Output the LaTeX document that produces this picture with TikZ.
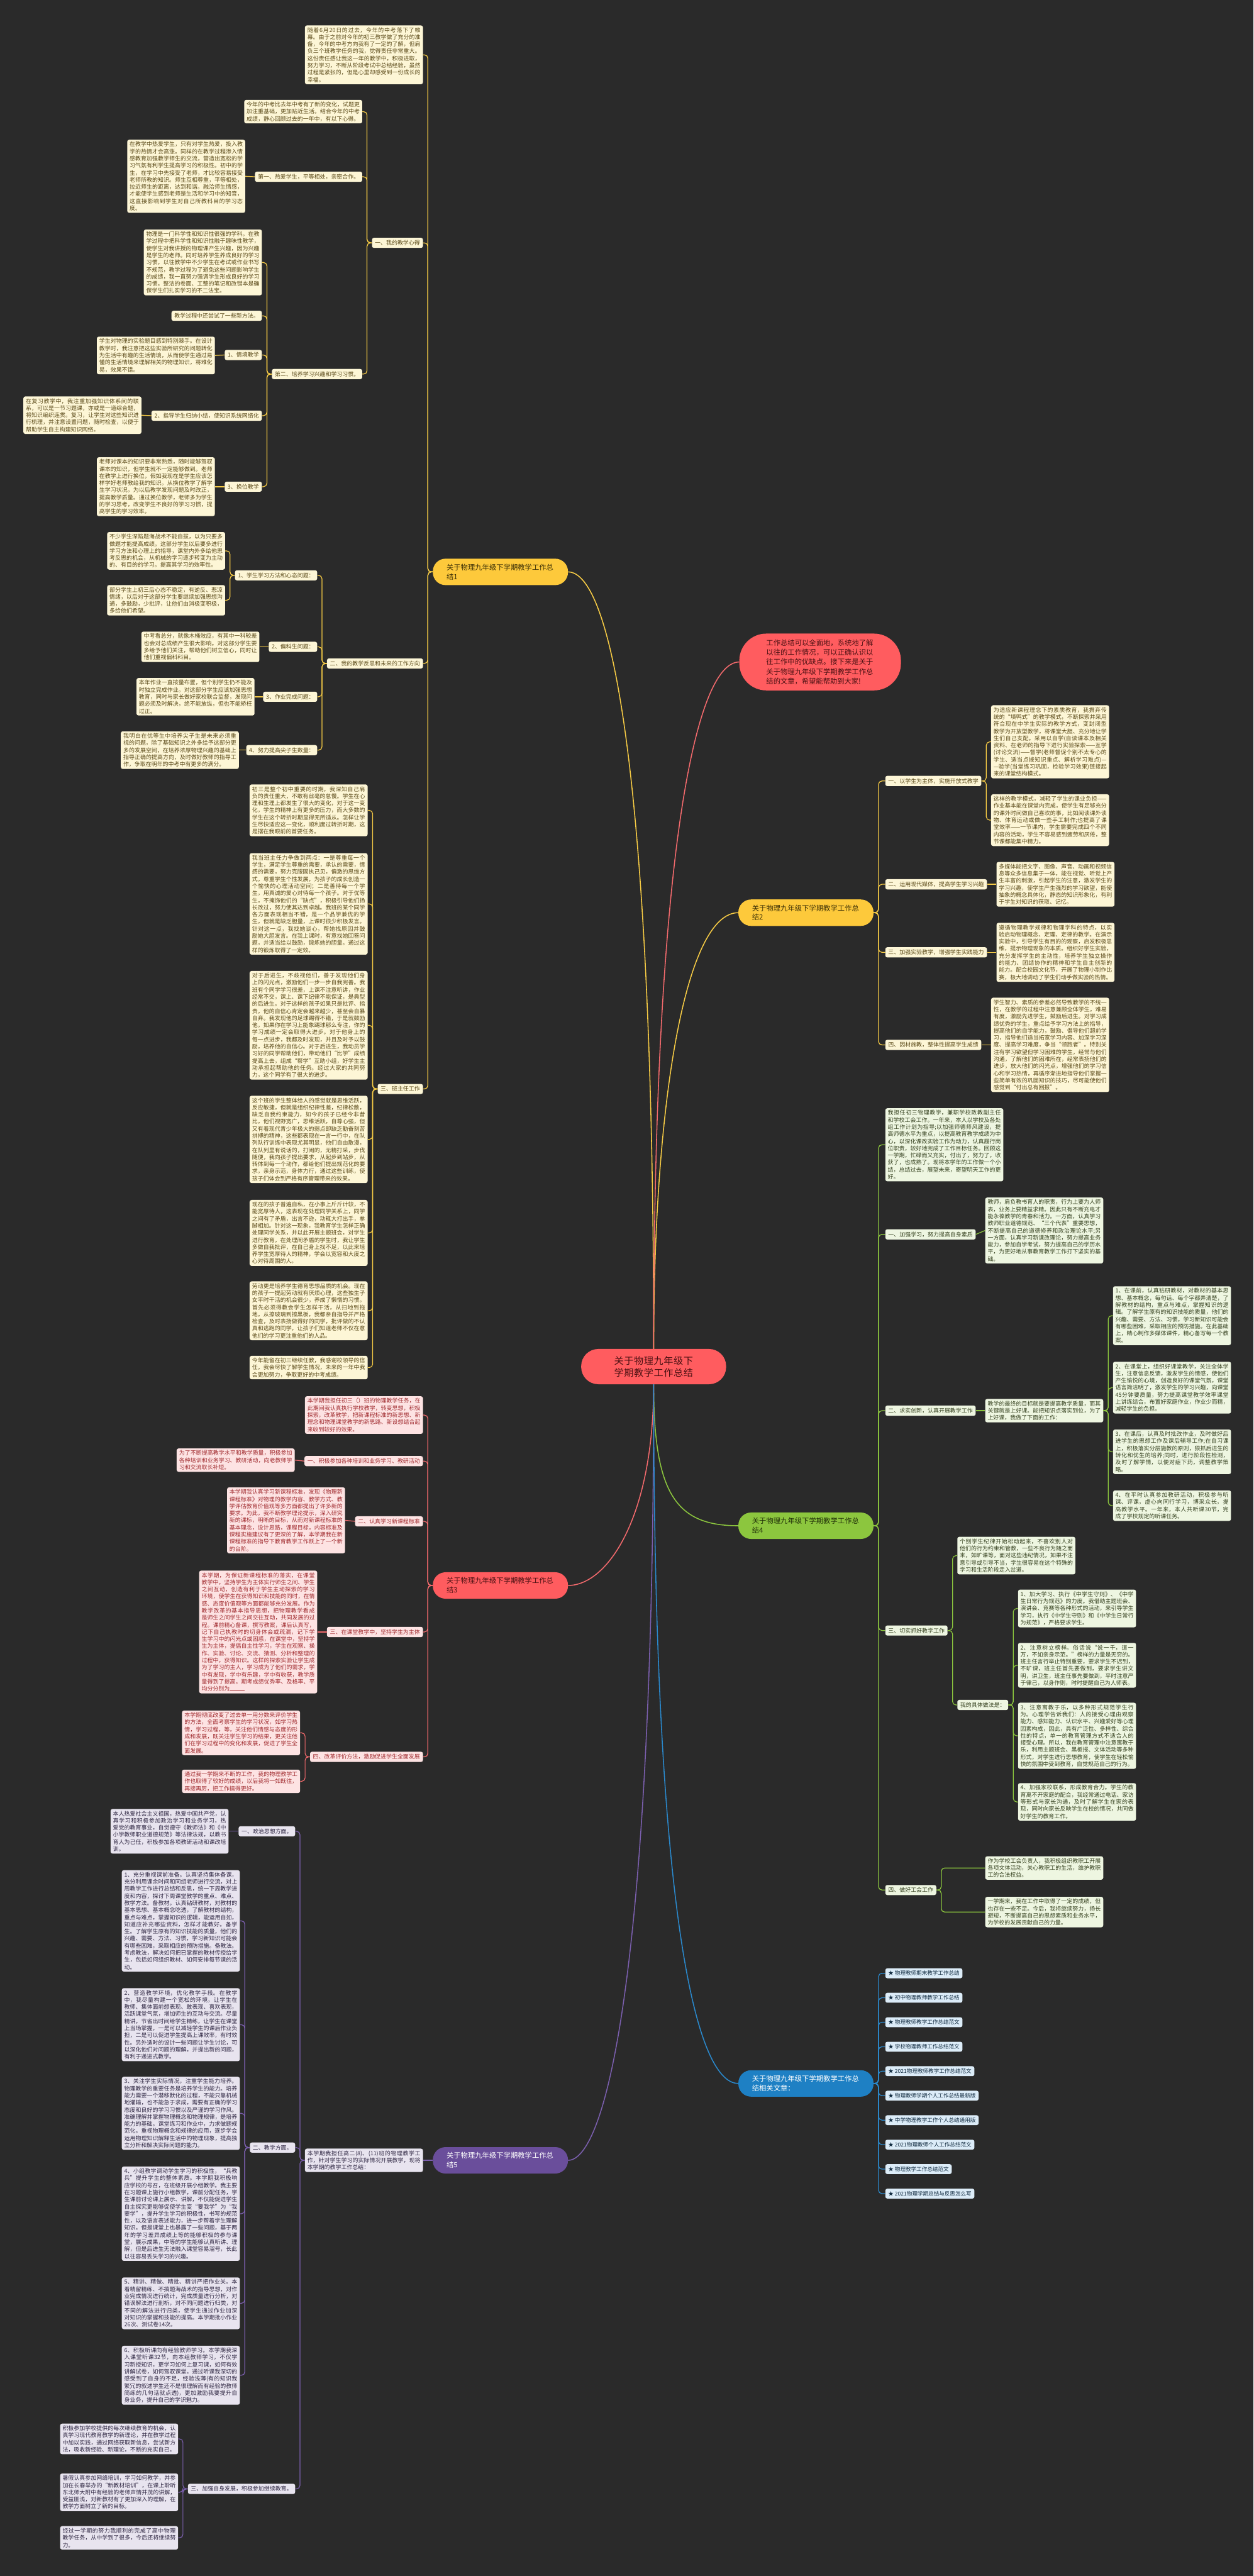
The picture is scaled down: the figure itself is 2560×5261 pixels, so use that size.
\documentclass[tikz,border=0pt]{standalone}
\usepackage{fontspec}
\setmainfont{Noto Sans CJK SC}
\XeTeXlinebreaklocale "zh"
\XeTeXlinebreakskip=0pt plus 1pt

\definecolor{bgc}{HTML}{2A2A2A}
\definecolor{rootc}{HTML}{FF5C5F}
\definecolor{roott}{HTML}{4A1012}
\definecolor{yc}{HTML}{FDC93B}
\definecolor{yt}{HTML}{3B2F06}
\definecolor{yf}{HTML}{FDF6D6}
\definecolor{ylt}{HTML}{5A4918}
\definecolor{yl}{HTML}{F6CB45}
\definecolor{rf}{HTML}{FDE3E3}
\definecolor{rlt}{HTML}{A02A2E}
\definecolor{rl}{HTML}{F36A6D}
\definecolor{gc}{HTML}{8CC63E}
\definecolor{gt}{HTML}{1F2E08}
\definecolor{gf}{HTML}{EEF6E1}
\definecolor{glt}{HTML}{34401E}
\definecolor{pc}{HTML}{6A4E9B}
\definecolor{pf}{HTML}{E8E4EF}
\definecolor{plt}{HTML}{2E2642}
\definecolor{pl}{HTML}{7B5FAE}
\definecolor{bc}{HTML}{1E80C4}
\definecolor{bf}{HTML}{DCECF8}
\definecolor{blt}{HTML}{112B40}
\definecolor{bl}{HTML}{2A89CC}

\tikzset{
  root/.style={fill=rootc, text=roott, rounded corners=35pt, minimum height=72pt, text width=216pt, inner xsep=40pt, inner ysep=12pt, align=center, font=\fontsize{19.5}{24}\selectfont},
  lead/.style={fill=rootc, text=roott, rounded corners=55pt, minimum height=116pt, text width=220pt, inner xsep=55pt, inner ysep=8pt, align=left, font=\fontsize{14.5}{19.5}\selectfont},
  topic/.style={rounded corners=26pt, minimum height=54pt, text width=220pt, inner xsep=28pt, inner ysep=8pt, align=left, font=\fontsize{14.5}{19}\selectfont},
  leaf/.style={rounded corners=4pt, text width=231pt, inner xsep=5pt, inner ysep=4pt, align=justify, font=\fontsize{11.5}{14.5}\selectfont},
  tag/.style={rounded corners=4pt, inner xsep=6pt, inner ysep=5pt, font=\fontsize{11.5}{14}\selectfont},
  yb/.style={fill=yf, text=ylt},
  rb/.style={fill=rf, text=rlt},
  gb/.style={fill=gf, text=glt},
  pb/.style={fill=pf, text=plt},
  bb/.style={fill=bf, text=blt},
  link/.style={line width=1.6pt, rounded corners=7pt},
}

\begin{document}
\begin{tikzpicture}[x=1pt, y=-1pt]
  % 背景
  \fill[bgc] (0,0) rectangle (2560,5261);
  \useasboundingbox (0,0) rectangle (2560,5261);

  % 中心
  \node[root] (root) at (1335,2791) {关于物理九年级下学期教学工作总结};
  \node[lead] (lead) at (1675,1352) {工作总结可以全面地，系统地了解以往的工作情况，可以正确认识以往工作中的优缺点。接下来是关于关于物理九年级下学期教学工作总结的文章，希望能帮助到大家!};

  % 总结1（左上）
  \node[topic, fill=yc, text=yt] (b1) at (1022,1168) {关于物理九年级下学期教学工作总结1};
  \node[leaf, yb, anchor=east] (b1p) at (864,112) {随着6月20日的过去，今年的中考落下了帷幕。由于之前对今年的初三教学做了充分的准备，今年的中考方向我有了一定的了解，但肩负三个班教学任务的我，觉得责任非常重大。这份责任感让我这一年的教学中，积极进取，努力学习，不断从阶段考试中总结经验，虽然过程是紧张的，但是心里却感受到一份成长的幸福。};
  \node[tag, yb, anchor=east] (b1a) at (864,496) {一、我的教学心得};
  \node[tag, yb, anchor=east] (b1b) at (864,1355) {二、我的教学反思和未来的工作方向};
  \node[tag, yb, anchor=east] (b1c) at (864,2224) {三、班主任工作};

  \node[leaf, yb, anchor=east] (b1a1) at (740,228) {今年的中考比去年中考有了新的变化，试题更加注重基础，更加贴近生活。结合今年的中考成绩，静心回顾过去的一年中，有以下心得。};
  \node[tag, yb, anchor=east] (b1a2) at (740,361) {第一、热爱学生，平等相处，亲密合作。};
  \node[leaf, yb, anchor=east] (b1a2a) at (501,360) {在教学中热爱学生，只有对学生热爱，投入教学的热情才会高涨。同样的在教学过程渗入情感教育加强教学师生的交流，营造出宽松的学习气氛有利学生提高学习的积极性。初中的学生，在学习中先接受了老师，才比较容易接受老师所教的知识。师生互相尊重，平等相处，拉近师生的距离，达到和谐。融洽师生情感，才能使学生感到老师是生活和学习中的知音，这直接影响到学生对自己所教科目的学习态度。};
  \node[tag, yb, anchor=east] (b1a3) at (740,764) {第二、培养学习兴趣和学习习惯。};
  \node[leaf, yb, anchor=east] (b1a3a) at (535,536) {物理是一门科学性和知识性很强的学科。在教学过程中把科学性和知识性融于趣味性教学，使学生对我讲授的物理课产生兴趣，因为兴趣是学生的老师。同时培养学生养成良好的学习习惯，以往教学中不少学生在考试或作业书写不规范，教学过程为了避免这些问题影响学生的成绩，我一直努力强调学生形成良好的学习习惯。整洁的卷面、工整的笔记和改错本是确保学生们扎实学习的不二法宝。};
  \node[tag, yb, anchor=east] (b1a3b) at (535,645) {教学过程中还尝试了一些新方法。};
  \node[tag, yb, anchor=east] (b1a3c) at (535,725) {1、情境教学};
  \node[leaf, yb, anchor=east] (b1a3c1) at (439,726) {学生对物理的实验题目感到特别棘手。在设计教学时，我注意把这些实验所研究的问题转化为生活中有趣的生活情境，从而使学生通过易懂的生活情境来理解相关的物理知识，将难化易，效果不错。};
  \node[tag, yb, anchor=east] (b1a3d) at (535,849) {2、指导学生归纳小结，使知识系统网络化};
  \node[leaf, yb, anchor=east] (b1a3d1) at (289,848) {在复习教学中，我注重加强知识体系间的联系，可以是一节习题课，亦或是一道综合题，将知识编织连贯。复习，让学生对这些知识进行梳理，并注意设置问题，随时检查，以便于帮助学生自主构建知识网络。};
  \node[tag, yb, anchor=east] (b1a3e) at (535,994) {3、换位教学};
  \node[leaf, yb, anchor=east] (b1a3e1) at (439,994) {老师对课本的知识要非常熟悉，随时能够驾驭课本的知识，但学生就不一定能够做到。老师在教学上进行换位，假如我现在是学生应该怎样学好老师教给我的知识。从换位教学了解学生学习状况，为以后教学发现问题及时改正，提高教学质量。通过换位教学，老师多为学生的学习思考，改变学生不良好的学习习惯，提高学生的学习效率。};

  \node[tag, yb, anchor=east] (b1b1) at (648,1175) {1、学生学习方法和心态问题：};
  \node[leaf, yb, anchor=east] (b1b1a) at (460,1125) {不少学生深陷题海战术不能自拔，以为只要多做题才能提高成绩。这部分学生以后要多进行学习方法和心理上的指导，课堂内外多给他思考反思的机会，从机械的学习逐步转变为主动的、有目的的学习。提高其学习的效率性。};
  \node[leaf, yb, anchor=east] (b1b1b) at (460,1226) {部分学生上初三后心态不稳定，有逆反、悲凉情绪，以后对于这部分学生要继续加强思想沟通，多鼓励，少批评，让他们由消极变积极，多给他们希望。};
  \node[tag, yb, anchor=east] (b1b2) at (648,1321) {2、偏科生问题：};
  \node[leaf, yb, anchor=east] (b1b2a) at (530,1321) {中考看总分，就像木桶效应，有其中一科较差也会对总成绩产生很大影响。对这部分学生要多给予他们关注，帮助他们树立信心，同时让他们重视偏科科目。};
  \node[tag, yb, anchor=east] (b1b3) at (648,1423) {3、作业完成问题：};
  \node[leaf, yb, anchor=east] (b1b3a) at (520,1423) {本年作业一直按量布置，但个别学生仍不能及时独立完成作业。对这部分学生应该加强思想教育，同时与家长做好家校联合监督，发现问题必须及时解决，绝不能放纵，但也不能矫枉过正。};
  \node[tag, yb, anchor=east] (b1b4) at (648,1532) {4、努力提高尖子生数量：};
  \node[leaf, yb, anchor=east] (b1b4a) at (488,1532) {我明白在优等生中培养尖子生是未来必须重视的问题，除了基础知识之外多给予这部分更多的发展空间，在培养浓厚物理兴趣的基础上指导正确的提高方向，及时做好教师的指导工作，争取在明年的中考中有更多的满分。};

  \node[leaf, yb, anchor=east] (b1c1) at (751,1655) {初三是整个初中重要的时期，我深知自己肩负的责任重大，不敢有丝毫的怠慢。学生在心理和生理上都发生了很大的变化，对于这一变化，学生的精神上有更多的压力，而大多数的学生在这个转折时期显得无所适从。怎样让学生尽快适应这一变化，顺利度过转折时期，这是摆在我眼前的首要任务。};
  \node[leaf, yb, anchor=east] (b1c2) at (751,1846) {我当班主任力争做到两点：一是尊重每一个学生，满足学生尊重的需要，承认的需要，情感的需要，努力克服固执己见，偏激的思维方式，尊重学生个性发展，为孩子的成长创造一个愉快的心理活动空间；二是善待每一个学生，用真诚的爱心对待每一个孩子。对于优等生，不掩饰他们的“缺点”，积极引导他们扬长改过，努力使其达到卓越。我班的某个同学各方面表现相当不错，是一个品学兼优的学生，但就是缺乏胆量，上课时很少积极发言。针对这一点，我找她谈心，帮她找原因并鼓励她大胆发言。在我上课时，有意找她回答问题，并适当给以鼓励，锻炼她的胆量。通过这样的锻炼取得了一定效。};
  \node[leaf, yb, anchor=east] (b1c3) at (751,2094) {对于后进生，不歧视他们，善于发现他们身上的闪光点，激励他们一步一步自我完善。我班有个同学学习很差，上课不注意听讲，作业经常不交，课上、课下纪律不能保证，是典型的后进生。对于这样的孩子如果只是批评、指责，他的自信心肯定会越来越少，甚至会自暴自弃。我发现他的足球踢得不错，于是就鼓励他，如果你在学习上能象踢球那么专注，你的学习成绩一定会取得大进步。对于他身上的每一点进步，我都及时发现，并且及时予以鼓励，培养他的自信心。对于后进生，我动员学习好的同学帮助他们，带动他们“比学”成绩提高上去，组成“帮学”互助小组，好学生主动承担起帮助他的任务。经过大家的共同努力，这个同学有了很大的进步。};
  \node[leaf, yb, anchor=east] (b1c4) at (751,2327) {这个班的学生整体给人的感觉就是思维活跃，反应敏捷，但就是组织纪律性差，纪律松散，缺乏自我约束能力，如今的孩子已经今非昔比，他们视野宽广，思维活跃，自尊心强，但又有着现代青少年极大的弱点即缺乏勤奋刻苦拼搏的精神，这些都表现在一言一行中，在队列队行训练中表现尤其明显，他们自由散漫，在队列里有说话的，打闹的，无精打采，步伐随便，我向孩子提出要求，从起步到站步，从转体到每一个动作，都给他们提出规范化的要求，亲身示范，身体力行，通过这些训练，使孩子们体会到严格有序管理带来的效果。};
  \node[leaf, yb, anchor=east] (b1c5) at (751,2518) {现在的孩子普遍自私，在小事上斤斤计较，不能宽厚待人，这表现在处理同学关系上，同学之间有了矛盾，出言不逊，动辄大打出手，拳脚相加。针对这一现象，我教育学生怎样正确处理同学关系，并以此开展主题班会，对学生进行教育，在处理闹矛盾的学生时，我让学生多做自我批评，在自己身上找不足，以此来培养学生宽厚待人的精神，学会以宽容和大度之心对待周围的人。};
  \node[leaf, yb, anchor=east] (b1c6) at (751,2677) {劳动更是培养学生德育思想品质的机会。现在的孩子一提起劳动就有厌烦心理，这些独生子女平时干活的机会很少，养成了懒惰的习惯。首先必须得教会学生怎样干活，从扫地到拖地，从擦玻璃到擦黑板，我都亲自指导并严格检查，及时表扬做得好的同学，批评做的不认真和逃跑的同学，让孩子们知道老师不仅在意他们的学习更注重他们的人品。};
  \node[leaf, yb, anchor=east] (b1c7) at (751,2793) {今年能留在初三继续任教，我感谢校领导的信任，我会尽快了解学生情况，未来的一年中我会更加努力，争取更好的中考成绩。};

  % 总结2（右上）
  \node[topic, fill=yc, text=yt] (b2) at (1646,1864) {关于物理九年级下学期教学工作总结2};
  \node[tag, yb, anchor=west] (b2a) at (1808,1595) {一、以学生为主体，实施开放式教学};
  \node[leaf, yb, anchor=west] (b2a1) at (2024,1515) {为适应新课程理念下的素质教育，我摒弃传统的“填鸭式”的教学模式，不断探索并采用符合现在中学生实际的教学方式，变封闭型教学为开放型教学，将课堂大胆、充分地让学生们自己支配。采用以自学(自读课本及相关资料、在老师的指导下进行实验探索——互学(讨论交流)——督学(老师督促个别不太专心的学生、适当点拨知识重点、解析学习难点)——验学(当堂练习巩固，检验学习效果)链接起来的课堂结构模式。};
  \node[leaf, yb, anchor=west] (b2a2) at (2024,1675) {这样的教学模式，减轻了学生的课业负担——作业基本能在课堂内完成，使学生有足够充分的课外时间做自己喜欢的事，比如阅读课外读物、体育运动或做一些手工制作;也提高了课堂效率——一节课内，学生需要完成四个不同内容的活动，学生不容易感到疲劳和厌倦，整节课都能集中精力。};
  \node[tag, yb, anchor=west] (b2b) at (1808,1806) {二、运用现代媒体，提高学生学习兴趣};
  \node[leaf, yb, anchor=west] (b2b1) at (2035,1806) {多媒体能把文字、图像、声音、动画和视频信息等众多信息集于一体，能在视觉、听觉上产生丰富的刺激，引起学生的注意，激发学生的学习兴趣，使学生产生强烈的学习欲望，能使抽象的概念具体化，静态的知识形象化，有利于学生对知识的获取、记忆。};
  \node[tag, yb, anchor=west] (b2c) at (1808,1945) {三、加强实验教学，增强学生实践能力};
  \node[leaf, yb, anchor=west] (b2c1) at (2035,1945) {遵循物理教学规律和物理学科的特点，以实验启动物理概念、定理、定律的教学。在演示实验中，引导学生有目的的观察，启发积极思维，提示物理现象的本质。组织好学生实验，充分发挥学生的主动性，培养学生独立操作的能力、团结协作的精神和学生自主创新的能力。配合校园文化节，开展了物理小制作比赛，极大地调动了学生们动手做实验的热情。};
  \node[tag, yb, anchor=west] (b2d) at (1808,2134) {四、因材施教，整体性提高学生成绩};
  \node[leaf, yb, anchor=west] (b2d1) at (2024,2134) {学生智力、素质的参差必然导致教学的不统一性，在教学的过程中注意兼顾全体学生，难易有度，激励先进学生，鼓励后进生。对学习成绩优秀的学生，重点给予学习方法上的指导，提高他们的自学能力，鼓励、倡导他们超前学习，指导他们适当拓宽学习内容、加深学习深度、提高学习难度，争当“领跑者”。特别关注有学习欲望但学习困难的学生，经常与他们沟通，了解他们的困难所在，经常表扬他们的进步，放大他们的闪光点，增强他们的学习信心和学习热情，再循序渐进地指导他们掌握一些简单有效的巩固知识的技巧，尽可能使他们感觉到“付出总有回报”。};

  % 总结4（右中）
  \node[topic, fill=gc, text=gt] (b4) at (1646,3116) {关于物理九年级下学期教学工作总结4};
  \node[leaf, gb, anchor=west] (b4p) at (1808,2338) {我担任初三物理教学，兼职学校政教副主任和学校工会工作。一年来，本人以学校及各处组工作计划为指导;以加强师德师风建设，提高师德水平为重点，以提高教育教学成绩为中心，以深化课改实验工作为动力，认真履行岗位职责，较好地完成了工作目标任务。回顾这一学期，忙碌而又充实，付出了，努力了，收获了，也成熟了。现将本学年的工作做一个小结，总结过去，展望未来，寄望明天工作的更好。};
  \node[tag, gb, anchor=west] (b4a) at (1808,2521) {一、加强学习，努力提高自身素质};
  \node[leaf, gb, anchor=west] (b4a1) at (2012,2513) {教师，肩负教书育人的职责，行为上要为人师表，业务上要精益求精。因此只有不断充电才能永葆教学的青春和活力。一方面，认真学习教师职业道德规范、“三个代表”重要思想，不断提高自己的道德修养和政治理论水平;另一方面，认真学习新课改理论，努力提高业务能力，参加自学考试，努力提高自己的学历水平，为更好地从事教育教学工作打下坚实的基础。};
  \node[tag, gb, anchor=west] (b4b) at (1808,2881) {二、求实创新，认真开展教学工作};
  \node[leaf, gb, anchor=west] (b4b1) at (2012,2881) {教学的最终的目标就是要提高教学质量，而其关键就是上好课。能把知识点落实到位，为了上好课，我做了下面的工作：};
  \node[leaf, gb, anchor=west] (b4b1a) at (2273,2687) {1、在课前，认真钻研教材，对教材的基本思想、基本概念，每句话、每个字都弄清楚，了解教材的结构，重点与难点，掌握知识的逻辑。了解学生原有的知识技能的质量，他们的兴趣、需要、方法、习惯，学习新知识可能会有哪些困难，采取相应的预防措施。在此基础上，精心制作多媒体课件，精心备写每一个教案。};
  \node[leaf, gb, anchor=west] (b4b1b) at (2273,2834) {2、在课堂上，组织好课堂教学，关注全体学生，注意信息反馈，激发学生的情感，使他们产生愉悦的心境，创造良好的课堂气氛，课堂语言简洁明了，激发学生的学习兴趣，向课堂45分钟要质量，努力提高课堂教学效率课堂上讲练结合，布置好家庭作业，作业少而精，减轻学生的负担。};
  \node[leaf, gb, anchor=west] (b4b1c) at (2273,2965) {3、在课后，认真及时批改作业，及时做好后进学生的思想工作及课后辅导工作;在自习课上，积极落实分层施教的原则，狠抓后进生的转化和优生的培养;同时，进行阶段性检测，及时了解学情，以便对症下药，调整教学策略。};
  \node[leaf, gb, anchor=west] (b4b1d) at (2273,3075) {4、在平时认真参加教研活动，积极参与听课、评课，虚心向同行学习，博采众长，提高教学水平。一年来，本人共听课30节，完成了学校规定的听课任务。};
  \node[tag, gb, anchor=west] (b4c) at (1808,3330) {三、切实抓好教学工作};
  \node[leaf, gb, anchor=west] (b4c1) at (1955,3177) {个别学生纪律开始松动起来，不喜欢别人对他们的行为约束和管教，一些不良行为随之而来，如旷课等，面对这些违纪情况，如果不注意引导或引导不当，学生很容易在这个特殊的学习和生活阶段走入岔道。};
  \node[tag, gb, anchor=west] (b4c2) at (1955,3482) {我的具体做法是：};
  \node[leaf, gb, anchor=west] (b4c2a) at (2079,3285) {1、加大学习、执行《中学生守则》、《中学生日常行为规范》的力度。我借助主题班会、演讲会、竞赛等各种形式的活动，来引导学生学习，执行《中学生守则》和《中学生日常行为规范》，严格要求学生。};
  \node[leaf, gb, anchor=west] (b4c2b) at (2079,3401) {2、注意树立榜样。俗话说“说一千，道一万，不如亲身示范。”榜样的力量是无穷的。班主任言行举止特别重要，要求学生不迟到，不旷课，班主任首先要做到，要求学生讲文明，讲卫生，班主任事先要做到，平时注意严于律己，以身作则，时时提醒自己为人师表。};
  \node[leaf, gb, anchor=west] (b4c2c) at (2079,3545) {3、注意寓教于乐，以多种形式规范学生行为。心理学告诉我们：人的接受心理由观察能力、感知能力、认识水平、兴趣爱好等心理因素构成，因此，具有广泛性、多样性、综合性的特点，单一的教育管理方式不适合人的接受心理。所以，我在教育管理中注意寓教于乐，利用主题班会、黑板报、文体活动等多种形式，对学生进行思想教育，使学生在轻松愉快的氛围中受到教育，自觉规范自己的行为。};
  \node[leaf, gb, anchor=west] (b4c2d) at (2079,3680) {4、加强家校联系，形成教育合力。学生的教育离不开家庭的配合，我经常通过电话、家访等形式与家长沟通，及时了解学生在家的表现，同时向家长反映学生在校的情况，共同做好学生的教育工作。};
  \node[tag, gb, anchor=west] (b4d) at (1808,3860) {四、做好工会工作};
  \node[leaf, gb, anchor=west] (b4d1) at (2012,3815) {作为学校工会负责人，我积极组织教职工开展各项文体活动，关心教职工的生活，维护教职工的合法权益。};
  \node[leaf, gb, anchor=west] (b4d2) at (2012,3905) {一学期来，我在工作中取得了一定的成绩，但也存在一些不足。今后，我将继续努力，扬长避短，不断提高自己的思想素质和业务水平，为学校的发展贡献自己的力量。};

  % 总结3（左中）
  \node[topic, fill=rootc, text=roott] (b3) at (1022,3238) {关于物理九年级下学期教学工作总结3};
  \node[leaf, rb, anchor=east] (b3p) at (864,2890) {本学期我担任初三（）班的物理教学任务，在此期间我认真执行学校教学，转变思想，积极探索，改革教学，把新课程标准的新思想、新理念和物理课堂教学的新思路、新设想结合起来收到较好的效果。};
  \node[tag, rb, anchor=east] (b3a) at (864,2984) {一、积极参加各种培训和业务学习、教研活动};
  \node[leaf, rb, anchor=east] (b3a1) at (602,2982) {为了不断提高教学水平和教学质量，积极参加各种培训和业务学习、教研活动，向老教师学习和交流取长补短。};
  \node[tag, rb, anchor=east] (b3b) at (864,3107) {二、认真学习新课程标准};
  \node[leaf, rb, anchor=east] (b3b1) at (705,3105) {本学期我认真学习新课程标准，发现《物理新课程标准》对物理的教学内容、教学方式、教学评估教育价值观等多方面都提出了许多新的要求。为此，我不断教学理论提示，深入研究新的课标，明晰的目标，从而对新课程标准的基本理念，设计思路，课程目标，内容标准及课程实施建议有了更深的了解，本学期我在新课程标准的指导下教育教学工作跃上了一个新的台阶。};
  \node[tag, rb, anchor=east] (b3c) at (864,3333) {三、在课堂教学中，坚持学生为主体};
  \node[leaf, rb, anchor=east] (b3c1) at (648,3333) {本学期，为保证新课程标准的落实，在课堂教学中，坚持学生为主体实行师生之间、学生之间互动，创造有利于学生主动探索的学习环境，使学生在获得知识和技能的同时，在情感、态度价值观等方面都能够充分发展。作为教学改革的基本指导思想，把物理教学看成是师生之间学生之间交往互动，共同发展的过程。课前精心备课，撰写教案，课后认真写，记下自己执教时的切身体会或疏漏，记下学生学习中的闪光点或困惑，在课堂中，坚持学生为主体，提倡自主性学习，学生在观察、操作、实验、讨论、交流、猜测、分析和整理的过程中，获得知识。这样的探索实验让学生成为了学习的主人，学习成为了他们的需求，学中有发现，学中有乐趣，学中有收获，教学质量得到了提高。期考成绩优秀率、及格率、平均分分别为\rule{30pt}{0.5pt}};
  \node[tag, rb, anchor=east] (b3d) at (864,3588) {四、改革评价方法，激励促进学生全面发展};
  \node[leaf, rb, anchor=east] (b3d1) at (613,3539) {本学期彻底改变了过去单一用分数来评价学生的方法，全面考察学生的学习状况，如学习热情，学习过程，等，关注他们情感与态度的形成和发展，既关注学生学习的结果，更关注他们在学习过程中的变化和发展，促进了学生全面发展。};
  \node[leaf, rb, anchor=east] (b3d2) at (613,3638) {通过我一学期来不断的工作，我的物理教学工作也取得了较好的成绩，以后我将一如既往，再接再厉，把工作搞得更好。};

  % 总结5（左下）
  \node[topic, fill=pc, text=white] (b5) at (1022,4412) {关于物理九年级下学期教学工作总结5};
  \node[leaf, pb, anchor=east] (b5p) at (864,4412) {本学期我担任高二(8)、(11)班的物理教学工作，针对学生学习的实际情况开展教学，现将本学期的教学工作总结：};
  \node[tag, pb, anchor=east] (b5a) at (603,3740) {一、政治思想方面。};
  \node[leaf, pb, anchor=east] (b5a1) at (467,3740) {本人热爱社会主义祖国，热爱中国共产党，认真学习和积极参加政治学习和业务学习，热爱党的教育事业，自觉遵守《教师法》和《中小学教师职业道德规范》等法律法规，以教书育人为己任，积极参加各项教研活动和课改培训。};
  \node[tag, pb, anchor=east] (b5b) at (603,4386) {二、教学方面。};
  \node[leaf, pb, anchor=east] (b5b1) at (490,3923) {1、充分重视课前准备。认真坚持集体备课，充分利用课余时间和同组老师进行交流，对上周教学工作进行总结和反思，统一下周教学进度和内容，探讨下周课堂教学的重点、难点、教学方法。备教材。认真钻研教材，对教材的基本思想、基本概念吃透，了解教材的结构，重点与难点，掌握知识的逻辑，能运用自如，知道应补充哪些资料，怎样才能教好。备学生。了解学生原有的知识技能的质量，他们的兴趣、需要、方法、习惯，学习新知识可能会有哪些困难，采取相应的预防措施。备教法。考虑教法，解决如何把已掌握的教材传授给学生，包括如何组织教材、如何安排每节课的活动。};
  \node[leaf, pb, anchor=east] (b5b2) at (490,4135) {2、营造教学环境，优化教学手段。在教学中，我尽量构建一个宽松的环境，让学生在教师、集体面前想表现、敢表现、喜欢表现，活跃课堂气氛，增加师生的互动与交流。尽量精讲，节省出时间给学生精练，让学生在课堂上当场掌握，一是可以减轻学生的课后作业负担，二是可以促进学生提高上课效率，有时效性。另外适时的设计一些问题让学生讨论，可以深化他们对问题的理解，并提出新的问题，有利于递进式教学。};
  \node[leaf, pb, anchor=east] (b5b3) at (490,4316) {3、关注学生实际情况，注重学生能力培养。物理教学的重要任务是培养学生的能力。培养能力需要一个潜移默化的过程，不能只靠机械地灌输，也不能急于求成，需要有正确的学习态度和良好的学习习惯以及严谨的学习作风。准确理解并掌握物理概念和物理规律，是培养能力的基础。课堂练习和作业中，力求做题规范化。重视物理概念和规律的应用，逐步学会运用物理知识解释生活中的物理现象，提高独立分析和解决实际问题的能力。};
  \node[leaf, pb, anchor=east] (b5b4) at (490,4521) {4、小组教学调动学生学习的积极性，“兵教兵”提升学生的整体素质。本学期我积极响应学校的号召，在班级开展小组教学。我主要在习题课上施行小组教学，课前分配任务，学生课前讨论课上展示、讲解，不仅能促进学生自主探究更能够促使学生变“要我学”为“我要学”，提升学生学习的积极性，书写的规范性，以及语言表述能力，进一步帮着学生理解知识。但是课堂上也暴露了一些问题，基于两年的学习差异成绩上等的能够积极的参与课堂，展示成果，中等的学生能够认真听讲、理解，但是后进生无法融入课堂容易溜号，长此以往容易丢失学习的兴趣。};
  \node[leaf, pb, anchor=east] (b5b5) at (490,4704) {5、精讲、精做、精批、精讲严把作业关。本着精留精练、不搞题海战术的指导思想，对作业完成情况进行统计，完成质量进行分析，对错误解法进行剖析，对不同问题进行归类，对不同的解法进行归类，使学生通过作业加深对知识的掌握和技能的提高。本学期批小作业26次、测试卷14次。};
  \node[leaf, pb, anchor=east] (b5b6) at (490,4851) {6、积极听课向有经验教师学习。本学期我深入课堂听课32节，向本组教师学习，不仅学习新授知识，更学习如何上复习课，如何有效讲解试卷，如何驾驭课堂。通过听课我深切的感受到了自身的不足，经验浅薄(有的知识我繁冗的叙述学生还不是很理解而有经验的教师简练的几句话就点透)，更加激励我要提升自身业务，提升自己的学识魅力。};
  \node[tag, pb, anchor=east] (b5c) at (603,5083) {三、加强自身发展，积极参加继续教育。};
  \node[leaf, pb, anchor=east] (b5c1) at (364,4981) {积极参加学校提供的每次继续教育的机会，认真学习现代教育教学的新理论，并在教学过程中加以实践，通过网络获取新信息，尝试新方法，吸收新经验、新理论，不断的充实自己。};
  \node[leaf, pb, anchor=east] (b5c2) at (364,5090) {暑假认真参加网络培训，学习如何教学，并参加在长春举办的“新教材培训”，在课上聆听东北师大附中有经验的老师声情并茂的讲解，受益匪浅，对新教材有了更加深入的理解，在教学方面树立了新的目标。};
  \node[leaf, pb, anchor=east] (b5c3) at (364,5183) {经过一学期的努力我顺利的完成了高中物理教学任务，从中学到了很多，今后还将继续努力。};

  % 相关文章（右下）
  \node[topic, fill=bc, text=white] (b6) at (1646,4255) {关于物理九年级下学期教学工作总结相关文章：};
  \node[tag, bb, anchor=west, font=\fontsize{11}{13}\selectfont] (b6a) at (1808,4030) {★ 物理教师期末教学工作总结};
  \node[tag, bb, anchor=west, font=\fontsize{11}{13}\selectfont] (b6b) at (1808,4080) {★ 初中物理教师教学工作总结};
  \node[tag, bb, anchor=west, font=\fontsize{11}{13}\selectfont] (b6c) at (1808,4130) {★ 物理教师教学工作总结范文};
  \node[tag, bb, anchor=west, font=\fontsize{11}{13}\selectfont] (b6d) at (1808,4180) {★ 学校物理教师工作总结范文};
  \node[tag, bb, anchor=west, font=\fontsize{11}{13}\selectfont] (b6e) at (1808,4230) {★ 2021物理教师教学工作总结范文};
  \node[tag, bb, anchor=west, font=\fontsize{11}{13}\selectfont] (b6f) at (1808,4280) {★ 物理教师学期个人工作总结最新版};
  \node[tag, bb, anchor=west, font=\fontsize{11}{13}\selectfont] (b6g) at (1808,4330) {★ 中学物理教学工作个人总结通用版};
  \node[tag, bb, anchor=west, font=\fontsize{11}{13}\selectfont] (b6h) at (1808,4380) {★ 2021物理教师个人工作总结范文};
  \node[tag, bb, anchor=west, font=\fontsize{11}{13}\selectfont] (b6i) at (1808,4430) {★ 物理教学工作总结范文};
  \node[tag, bb, anchor=west, font=\fontsize{11}{13}\selectfont] (b6j) at (1808,4480) {★ 2021物理学期总结与反思怎么写};

  % 中心连线
  \draw[yl, line width=2pt] (root.north) .. controls (1335,1600) and (1250,1168) .. (b1.east);
  \draw[yl, line width=2pt] (root.north) .. controls (1335,2250) and (1400,1864) .. (b2.west);
  \draw[rl, line width=2pt] (root.north) .. controls (1335,1750) and (1420,1352) .. (lead.west);
  \draw[gc, line width=2pt] (root.south) .. controls (1335,3050) and (1380,3116) .. (b4.west);
  \draw[rl, line width=2pt] (root.south) .. controls (1335,3100) and (1240,3238) .. (b3.east);
  \draw[pl, line width=2pt] (root.south) .. controls (1335,4000) and (1240,4412) .. (b5.east);
  \draw[bl, line width=2pt] (root.south) .. controls (1335,3900) and (1420,4255) .. (b6.west);

  % 左侧分支连线
  \foreach \c in {b1p,b1a,b1b,b1c} \draw[yl, link] (b1.west) -- ++(-10,0) |- (\c.east);
  \foreach \c in {b1a1,b1a2,b1a3} \draw[yl, link] (b1a.west) -- ++(-10,0) |- (\c.east);
  \draw[yl, link] (b1a2.west) -- (b1a2a.east);
  \foreach \c in {b1a3a,b1a3b,b1a3c,b1a3d,b1a3e} \draw[yl, link] (b1a3.west) -- ++(-10,0) |- (\c.east);
  \draw[yl, link] (b1a3c.west) -- (b1a3c1.east);
  \draw[yl, link] (b1a3d.west) -- (b1a3d1.east);
  \draw[yl, link] (b1a3e.west) -- (b1a3e1.east);
  \foreach \c in {b1b1,b1b2,b1b3,b1b4} \draw[yl, link] (b1b.west) -- ++(-10,0) |- (\c.east);
  \foreach \c in {b1b1a,b1b1b} \draw[yl, link] (b1b1.west) -- ++(-10,0) |- (\c.east);
  \draw[yl, link] (b1b2.west) -- (b1b2a.east);
  \draw[yl, link] (b1b3.west) -- (b1b3a.east);
  \draw[yl, link] (b1b4.west) -- (b1b4a.east);
  \foreach \c in {b1c1,b1c2,b1c3,b1c4,b1c5,b1c6,b1c7} \draw[yl, link] (b1c.west) -- ++(-10,0) |- (\c.east);

  \foreach \c in {b3p,b3a,b3b,b3c,b3d} \draw[rl, link] (b3.west) -- ++(-10,0) |- (\c.east);
  \draw[rl, link] (b3a.west) -- (b3a1.east);
  \draw[rl, link] (b3b.west) -- (b3b1.east);
  \draw[rl, link] (b3c.west) -- (b3c1.east);
  \foreach \c in {b3d1,b3d2} \draw[rl, link] (b3d.west) -- ++(-10,0) |- (\c.east);

  \draw[pl, link] (b5.west) -- (b5p.east);
  \foreach \c in {b5a,b5b,b5c} \draw[pl, link] (b5p.west) -- ++(-10,0) |- (\c.east);
  \draw[pl, link] (b5a.west) -- (b5a1.east);
  \foreach \c in {b5b1,b5b2,b5b3,b5b4,b5b5,b5b6} \draw[pl, link] (b5b.west) -- ++(-10,0) |- (\c.east);
  \foreach \c in {b5c1,b5c2,b5c3} \draw[pl, link] (b5c.west) -- ++(-10,0) |- (\c.east);

  % 右侧分支连线
  \foreach \c in {b2a,b2b,b2c,b2d} \draw[yl, link] (b2.east) -- ++(10,0) |- (\c.west);
  \foreach \c in {b2a1,b2a2} \draw[yl, link] (b2a.east) -- ++(10,0) |- (\c.west);
  \draw[yl, link] (b2b.east) -- (b2b1.west);
  \draw[yl, link] (b2c.east) -- (b2c1.west);
  \draw[yl, link] (b2d.east) -- (b2d1.west);

  \foreach \c in {b4p,b4a,b4b,b4c,b4d} \draw[gc, link] (b4.east) -- ++(10,0) |- (\c.west);
  \draw[gc, link] (b4a.east) -- (b4a1.west);
  \draw[gc, link] (b4b.east) -- (b4b1.west);
  \foreach \c in {b4b1a,b4b1b,b4b1c,b4b1d} \draw[gc, link] (b4b1.east) -- ++(10,0) |- (\c.west);
  \foreach \c in {b4c1,b4c2} \draw[gc, link] (b4c.east) -- ++(10,0) |- (\c.west);
  \foreach \c in {b4c2a,b4c2b,b4c2c,b4c2d} \draw[gc, link] (b4c2.east) -- ++(10,0) |- (\c.west);
  \foreach \c in {b4d1,b4d2} \draw[gc, link] (b4d.east) -- ++(10,0) |- (\c.west);

  \foreach \c in {b6a,b6b,b6c,b6d,b6e,b6f,b6g,b6h,b6i,b6j} \draw[bl, link] (b6.east) -- ++(10,0) |- (\c.west);
\end{tikzpicture}
\end{document}
